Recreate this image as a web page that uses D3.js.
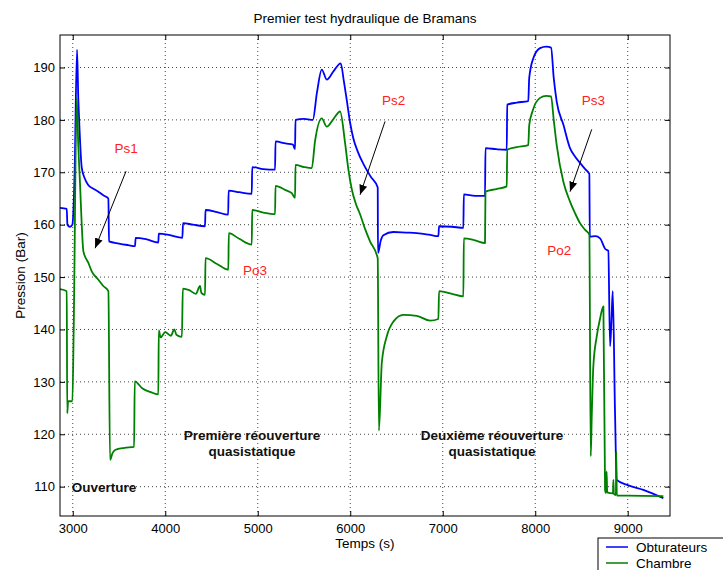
<!DOCTYPE html>
<html>
<head>
<meta charset="utf-8">
<script src="https://cdn.jsdelivr.net/npm/d3@7"></script>
<style>
  body { margin: 0; background: #fff; }
  text { font-family: "Liberation Sans", Arial, Helvetica, sans-serif; }
</style>
</head>
<body>
<script>
const width = 723;
const height = 570;
const margin = { top: 35, right: 53, bottom: 54, left: 60 };
const innerW = width - margin.left - margin.right;
const innerH = height - margin.top - margin.bottom;

// temps (s), pression (bar)
const obturateurs = [
  [2862, 163.2], [2935, 163.0], [2942, 160.0], [2970, 159.6], [2996, 160.0],
  [3020, 170.0], [3046, 193.4], [3060, 184.0], [3068, 180.4], [3097, 170.9],
  [3130, 168.8], [3165, 167.6], [3220, 166.9], [3277, 166.3], [3330, 165.6],
  [3385, 165.0], [3392, 156.8], [3500, 156.4], [3600, 156.1], [3673, 155.9],
  [3680, 157.5], [3800, 157.2], [3925, 156.6], [3930, 158.3], [4050, 158.0],
  [4185, 157.5], [4192, 160.3], [4300, 160.0], [4430, 159.7], [4435, 162.8],
  [4560, 162.4], [4680, 161.9], [4685, 166.5], [4800, 166.2], [4935, 165.9],
  [4940, 171.0], [5060, 170.6], [5187, 170.5], [5192, 175.9], [5300, 175.5],
  [5380, 175.3], [5403, 174.4], [5408, 180.0], [5500, 180.2], [5595, 180.0],
  [5640, 185.2], [5692, 189.6], [5746, 187.7], [5820, 189.3], [5897, 190.8],
  [5930, 187.5], [5962, 183.8], [5998, 179.5], [6033, 176.5], [6080, 174.0],
  [6142, 171.6], [6220, 169.2], [6297, 167.1], [6300, 154.6], [6330, 157.0],
  [6358, 158.0], [6466, 158.6], [6600, 158.5], [6719, 158.4], [6850, 158.1],
  [6953, 157.8], [6960, 159.7], [7100, 159.6], [7223, 159.4], [7228, 165.8],
  [7350, 165.5], [7457, 165.5], [7462, 174.6], [7580, 174.4], [7692, 174.3],
  [7697, 182.9], [7800, 183.3], [7925, 183.6], [7935, 188.0], [7980, 191.8],
  [8052, 193.7], [8120, 194.0], [8171, 193.8], [8200, 188.0], [8232, 183.5],
  [8304, 179.1], [8376, 174.6], [8430, 173.0], [8484, 171.8], [8540, 170.6],
  [8585, 169.7], [8590, 157.7], [8650, 157.8], [8701, 157.4], [8755, 155.4],
  [8790, 155.0], [8809, 136.8], [8825, 142.0], [8838, 147.3], [8862, 124.7],
  [8881, 111.3], [9000, 110.3], [9169, 109.4], [9385, 107.8]
];

const chambre = [
  [2862, 147.7], [2935, 147.3], [2940, 124.0], [2950, 126.3], [2996, 126.3],
  [3010, 140.0], [3043, 184.2], [3060, 175.0], [3079, 167.6], [3097, 160.0],
  [3115, 154.9], [3169, 152.7], [3205, 151.1], [3277, 149.5], [3330, 148.3],
  [3385, 147.3], [3403, 115.1], [3430, 116.4], [3457, 117.0], [3560, 117.4],
  [3663, 117.6], [3670, 130.1], [3750, 128.8], [3850, 128.0], [3925, 127.6],
  [3930, 139.8], [3950, 138.5], [4000, 139.5], [4060, 138.8], [4098, 140.0],
  [4120, 139.0], [4180, 138.6], [4190, 147.8], [4260, 147.5], [4330, 146.8],
  [4376, 148.3], [4390, 147.0], [4430, 146.6], [4435, 153.6], [4560, 152.5],
  [4682, 151.4], [4687, 158.4], [4800, 157.3], [4935, 156.2], [4940, 162.8],
  [5060, 162.3], [5187, 162.0], [5192, 167.4], [5300, 166.6], [5368, 166.0],
  [5403, 165.1], [5408, 171.4], [5500, 171.0], [5584, 170.8], [5619, 175.9],
  [5692, 180.3], [5746, 178.7], [5820, 180.2], [5890, 181.6], [5944, 175.6],
  [5980, 170.5], [6016, 166.8], [6060, 164.0], [6106, 162.0], [6160, 159.2],
  [6214, 156.8], [6297, 153.6], [6310, 120.7], [6341, 133.6], [6395, 138.7],
  [6466, 141.5], [6574, 142.8], [6719, 142.6], [6863, 141.7], [6953, 142.0],
  [6960, 147.3], [7100, 146.8], [7223, 146.3], [7228, 157.4], [7350, 157.0],
  [7457, 156.5], [7462, 166.3], [7580, 166.8], [7692, 167.3], [7697, 174.3],
  [7800, 174.8], [7925, 175.2], [7935, 179.0], [7975, 181.9], [8052, 184.2],
  [8120, 184.6], [8171, 184.5], [8200, 180.0], [8232, 175.2], [8304, 168.2],
  [8376, 164.4], [8430, 162.2], [8484, 160.3], [8540, 159.0], [8585, 158.1],
  [8600, 115.8], [8611, 123.4], [8628, 132.9], [8665, 138.7], [8700, 142.0],
  [8737, 144.4], [8755, 109.4], [8765, 108.8], [8772, 112.9], [8778, 108.9],
  [8840, 108.7], [8845, 111.3], [8850, 108.6], [8872, 108.4], [8876, 116.7],
  [8882, 108.3], [9000, 108.3], [9385, 108.2]
];

const ticksX = [3000, 4000, 5000, 6000, 7000, 8000, 9000];
const ticksY = [110, 120, 130, 140, 150, 160, 170, 180, 190];

const seriesNoms = ["Obturateurs", "Chambre"];
const seriesCouleurs = ["#0000ff", "#008000"];

// étiquettes rouges [texte, temps, pression]
const etiquettes = [
  ["Ps1", 3576, 173.6], ["Ps2", 6470, 182.8], ["Ps3", 8628, 182.9],
  ["Po3", 4971, 150.4], ["Po2", 8261, 154.3]
];
// flèches [temps départ, pression départ, temps pointe, pression pointe]
const fleches = [
  [3576, 170.2, 3241, 155.5],
  [6376, 179.7, 6106, 165.7],
  [8611, 178.2, 8376, 166.3]
];
// textes en gras [ligne 1, ligne 2, temps, pression]
const phases = [
  ["Première réouverture", "quasistatique", 4938, 118.9],
  ["Deuxième réouverture", "quasistatique", 7533, 118.9]
];

const svg = d3
  .select("body")
  .append("svg")
  .attr("width", width)
  .attr("height", height);

const g = svg
  .append("g")
  .attr("transform", `translate(${margin.left}, ${margin.top})`);

const x = d3.scaleLinear().domain([2862, 9457]).range([0, innerW]);
const y = d3.scaleLinear().domain([104.4, 196.2]).range([innerH, 0]);

svg.append("defs").append("clipPath").attr("id", "zone")
  .append("rect").attr("width", innerW).attr("height", innerH);

// grille pointillée
g.append("g")
  .selectAll("line")
  .data(ticksX)
  .join("line")
  .attr("x1", (d) => x(d)).attr("x2", (d) => x(d))
  .attr("y1", 0).attr("y2", innerH)
  .attr("stroke", "#444").attr("stroke-dasharray", "1,3");

g.append("g")
  .selectAll("line")
  .data(ticksY)
  .join("line")
  .attr("x1", 0).attr("x2", innerW)
  .attr("y1", (d) => y(d)).attr("y2", (d) => y(d))
  .attr("stroke", "#444").attr("stroke-dasharray", "1,3");

// courbes
const ligne = d3
  .line()
  .x((d) => x(d[0]))
  .y((d) => y(d[1]))
  .curve(d3.curveMonotoneX);

g.append("g")
  .attr("clip-path", "url(#zone)")
  .selectAll("path")
  .data([obturateurs, chambre])
  .join("path")
  .attr("d", ligne)
  .attr("fill", "none")
  .attr("stroke", (d, i) => seriesCouleurs[i])
  .attr("stroke-width", 1.8)
  .attr("stroke-linejoin", "round");

// axes
const axeBas = d3.axisBottom(x).tickValues(ticksX).tickFormat(d3.format("d"))
  .tickSizeInner(-5).tickSizeOuter(0).tickPadding(8);
const axeGauche = d3.axisLeft(y).tickValues(ticksY).tickFormat(d3.format("d"))
  .tickSizeInner(-5).tickSizeOuter(0).tickPadding(5);
const axeHaut = d3.axisTop(x).tickValues(ticksX).tickSizeInner(-5).tickSizeOuter(0).tickFormat("");
const axeDroit = d3.axisRight(y).tickValues(ticksY).tickSizeInner(-5).tickSizeOuter(0).tickFormat("");

g.append("g").attr("transform", `translate(0, ${innerH})`).call(axeBas);
g.append("g").call(axeGauche);
g.append("g").call(axeHaut);
g.append("g").attr("transform", `translate(${innerW}, 0)`).call(axeDroit);

g.selectAll(".domain").remove();
g.selectAll(".tick line").attr("stroke", "#000");
g.selectAll(".tick text")
  .attr("font-size", 13)
  .attr("fill", "#000")
  .attr("font-family", "'Liberation Sans', Arial, sans-serif");

g.append("rect")
  .attr("width", innerW)
  .attr("height", innerH)
  .attr("fill", "none")
  .attr("stroke", "#000");

// flèches
svg.select("defs")
  .append("marker")
  .attr("id", "pointe")
  .attr("viewBox", "0 0 10 10")
  .attr("refX", 10).attr("refY", 5)
  .attr("markerWidth", 10).attr("markerHeight", 10)
  .attr("markerUnits", "userSpaceOnUse")
  .attr("orient", "auto")
  .append("path")
  .attr("d", "M0,1 L10,5 L0,9 Z")
  .attr("fill", "#000");

g.append("g")
  .selectAll("line")
  .data(fleches)
  .join("line")
  .attr("x1", (d) => x(d[0])).attr("y1", (d) => y(d[1]))
  .attr("x2", (d) => x(d[2])).attr("y2", (d) => y(d[3]))
  .attr("stroke", "#000")
  .attr("stroke-width", 1)
  .attr("marker-end", "url(#pointe)");

g.append("g")
  .selectAll("text")
  .data(etiquettes)
  .join("text")
  .attr("x", (d) => x(d[1]))
  .attr("y", (d) => y(d[2]))
  .attr("text-anchor", "middle")
  .attr("font-size", 13.5)
  .attr("fill", "#ff2020")
  .text((d) => d[0]);

const blocs = g.append("g")
  .selectAll("text")
  .data(phases)
  .join("text")
  .attr("text-anchor", "middle")
  .attr("font-size", 13.5)
  .attr("font-weight", "bold")
  .attr("fill", "#111");
blocs.append("tspan")
  .attr("x", (d) => x(d[2])).attr("y", (d) => y(d[3]))
  .text((d) => d[0]);
blocs.append("tspan")
  .attr("x", (d) => x(d[2])).attr("dy", 16)
  .text((d) => d[1]);

g.append("text")
  .attr("x", x(2990))
  .attr("y", y(108.9))
  .attr("font-size", 13.5)
  .attr("font-weight", "bold")
  .attr("fill", "#111")
  .text("Ouverture");

// titres
svg.append("text")
  .attr("x", margin.left + innerW / 2)
  .attr("y", 23)
  .attr("text-anchor", "middle")
  .attr("font-size", 13.5)
  .text("Premier test hydraulique de Bramans");

svg.append("text")
  .attr("x", margin.left + innerW / 2)
  .attr("y", 548)
  .attr("text-anchor", "middle")
  .attr("font-size", 13.5)
  .text("Temps (s)");

svg.append("text")
  .attr("transform", `translate(25, ${margin.top + innerH / 2}) rotate(-90)`)
  .attr("text-anchor", "middle")
  .attr("font-size", 13.5)
  .text("Pression (Bar)");

// légende
const legende = svg.append("g").attr("transform", "translate(598, 538)");
legende.append("rect")
  .attr("width", 140).attr("height", 40)
  .attr("fill", "#fff").attr("stroke", "#000");
const entrees = legende.selectAll("g")
  .data(seriesNoms)
  .join("g")
  .attr("transform", (d, i) => `translate(0, ${9 + i * 16})`);
entrees.append("line")
  .attr("x1", 8).attr("x2", 30)
  .attr("stroke", (d, i) => seriesCouleurs[i])
  .attr("stroke-width", 1.5);
entrees.append("text")
  .attr("x", 38).attr("y", 5)
  .attr("font-size", 13.5)
  .text((d) => d);
</script>
</body>
</html>
